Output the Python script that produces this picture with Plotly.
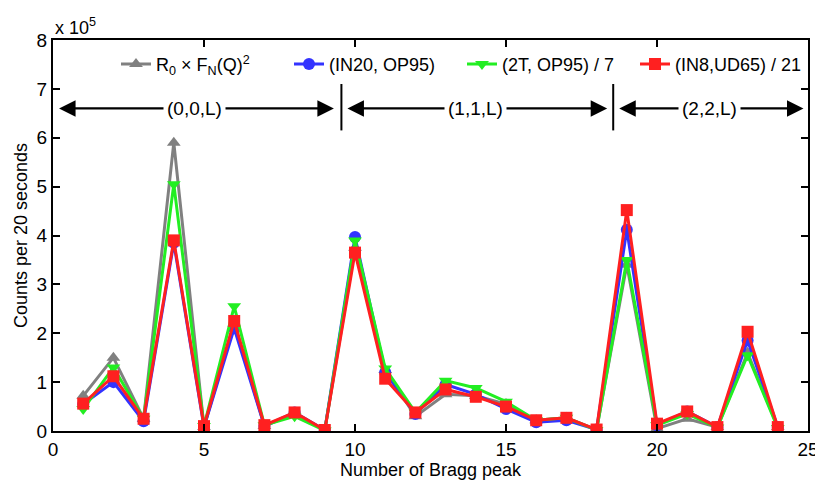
import plotly.graph_objects as go

peaks = list(range(1, 25))
calc = [0.72, 1.50, 0.25, 5.90, 0.08, 2.20, 0.10, 0.35, 0.02, 3.75, 1.25, 0.30,
        0.75, 0.72, 0.55, 0.22, 0.27, 0.03, 3.40, 0.05, 0.25, 0.08, 1.60, 0.08]
in20 = [0.55, 1.00, 0.20, 3.85, 0.08, 2.10, 0.10, 0.38, 0.02, 3.97, 1.20, 0.35,
        0.95, 0.75, 0.45, 0.18, 0.22, 0.03, 4.12, 0.12, 0.40, 0.08, 1.85, 0.08]
t2 = [0.45, 1.30, 0.25, 5.05, 0.10, 2.55, 0.12, 0.30, 0.01, 3.90, 1.28, 0.38,
      1.03, 0.88, 0.60, 0.22, 0.27, 0.02, 3.50, 0.12, 0.35, 0.07, 1.55, 0.06]
in8 = [0.56, 1.12, 0.25, 3.90, 0.10, 2.25, 0.12, 0.38, 0.02, 3.65, 1.07, 0.38,
       0.85, 0.70, 0.50, 0.22, 0.27, 0.03, 4.52, 0.15, 0.40, 0.08, 2.03, 0.08]

series = [
    ("R<sub>0</sub> × F<sub>N</sub>(Q)<sup>2</sup>", calc, "#808080", "triangle-up"),
    ("(IN20, OP95)", in20, "#3333ff", "circle"),
    ("(2T, OP95) / 7", t2, "#22ee22", "triangle-down"),
    ("(IN8,UD65) / 21", in8, "#ff2020", "square"),
]

fig = go.Figure()
for name, vals, col, sym in series:
    fig.add_trace(go.Scatter(x=peaks, y=vals, name=name, mode="lines+markers",
                             line=dict(color=col, width=3),
                             marker=dict(color=col, symbol=sym, size=12)))

groups = [("(0,0,L)", 0.2, 9.3, 4.7), ("(1,1,L)", 9.75, 18.35, 14.0), ("(2,2,L)", 18.75, 24.85, 21.75)]
ya = 6.6
for label, x0, x1, xc in groups:
    for tip in (x0, x1):
        fig.add_annotation(x=tip, y=ya, ax=xc, ay=ya, axref="x", ayref="y", xref="x", yref="y",
                           text="", showarrow=True, arrowhead=2, arrowsize=1.5, arrowwidth=2.2,
                           arrowcolor="black")
for label, x0, x1, xc in groups:
    fig.add_annotation(x=xc, y=ya, text=label, showarrow=False, bgcolor="white",
                       font=dict(size=19, color="black"), borderpad=3)

for xs in (9.55, 18.55):
    fig.add_shape(type="line", x0=xs, x1=xs, y0=6.15, y1=7.1, line=dict(color="black", width=2))

fig.add_annotation(xref="paper", yref="paper", x=0.0, y=1.0, xanchor="left", yanchor="bottom",
                   text="x 10<sup>5</sup>", showarrow=False, font=dict(size=18, color="black"))

axis_common = dict(showline=True, linecolor="black", linewidth=2, mirror="ticks", ticks="inside",
                   ticklen=7, tickwidth=2, tickcolor="black", showgrid=False, zeroline=False,
                   automargin=False, tickfont=dict(size=19, color="black"))

# the page body adds an 8px offset; compensate so the plot area matches the reference
fig.update_layout(
    width=815, height=472,
    margin=dict(l=45, r=15, t=32, b=49),
    paper_bgcolor="white", plot_bgcolor="white",
    font=dict(family="Liberation Sans, Arial, sans-serif", color="black"),
    xaxis=dict(range=[0, 25], dtick=5, title=dict(text="Number of Bragg peak", font=dict(size=18), standoff=2),
               ticklabelstandoff=0, **axis_common),
    yaxis=dict(range=[0, 8], dtick=1, title=dict(text="Counts per 20 seconds", font=dict(size=18), standoff=4),
               ticklabelstandoff=0, **axis_common),
    legend=dict(orientation="h", x=1.0, y=0.985, xanchor="right", yanchor="top",
                borderwidth=0, bgcolor="rgba(255,255,255,0)",
                entrywidth=128, entrywidthmode="pixels",
                font=dict(size=18, color="black"), tracegroupgap=0),
    showlegend=True,
)

fig.write_html("out.html")
